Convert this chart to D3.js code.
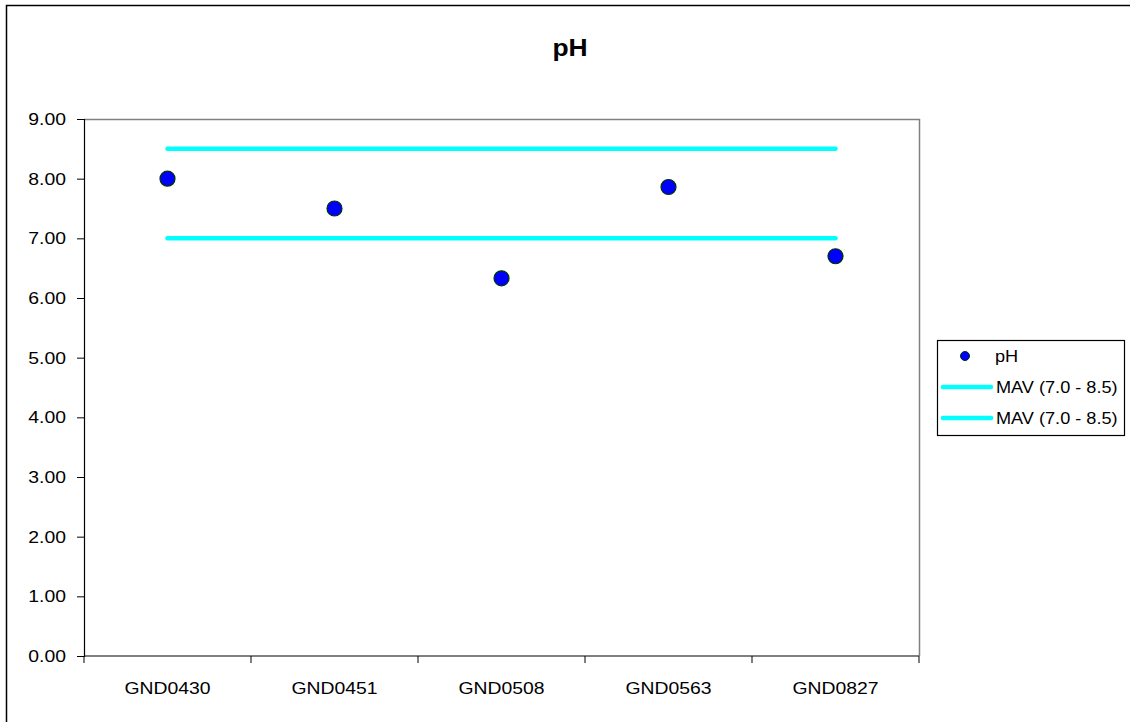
<!DOCTYPE html>
<html>
<head>
<meta charset="utf-8">
<script src="https://cdn.jsdelivr.net/npm/d3@7"></script>
<style>
  body { margin: 0; background: #fff; }
  svg { display: block; font-family: "Liberation Sans", Arial, sans-serif; }
</style>
</head>
<body>
<div id="chart"></div>
<script>
const categories = ["GND0430", "GND0451", "GND0508", "GND0563", "GND0827"];
const phValues = [8.0, 7.5, 6.33, 7.86, 6.7];
const mavHigh = [8.5, 8.5, 8.5, 8.5, 8.5];
const mavLow = [7.0, 7.0, 7.0, 7.0, 7.0];
const yTicks = [0, 1, 2, 3, 4, 5, 6, 7, 8, 9];
const legendLabels = ["pH", "MAV (7.0 - 8.5)", "MAV (7.0 - 8.5)"];

const width = 1130, height = 722;
const plot = { left: 84, right: 919, top: 119, bottom: 656 };

const svg = d3.select("#chart").append("svg")
  .attr("width", width)
  .attr("height", height);

// chart area frame
svg.append("rect")
  .attr("x", 6.5).attr("y", 5.5)
  .attr("width", 1130).attr("height", 722)
  .attr("fill", "#fff")
  .attr("stroke", "#000")
  .attr("stroke-width", 1.5);

const x = d3.scaleBand().domain(categories).range([plot.left, plot.right]).padding(0);
const y = d3.scaleLinear().domain([0, 9]).range([plot.bottom, plot.top]);
const cx = d => x(d) + x.bandwidth() / 2;

// plot area border (top + right gray)
svg.append("path")
  .attr("d", `M${plot.left},${plot.top + 0.5}H${plot.right + 0.5}V${plot.bottom}`)
  .attr("fill", "none")
  .attr("stroke", "#808080")
  .attr("stroke-width", 1.5);

// y axis
const yAxis = svg.append("g")
  .attr("transform", `translate(${plot.left},0)`)
  .call(d3.axisLeft(y).tickValues(yTicks).tickSize(7).tickFormat(d3.format(".2f")));
yAxis.select(".domain").attr("stroke", "#000").attr("stroke-width", 1.2);
yAxis.selectAll(".tick line").attr("stroke", "#000");
yAxis.selectAll(".tick text")
  .attr("x", 0)
  .attr("font-size", 17)
  .attr("fill", "#000")
  .attr("transform", "translate(-18,0) scale(1.14,1)");

// x axis with ticks at category boundaries
const xAxis = svg.append("g")
  .attr("transform", `translate(0,${plot.bottom})`);
xAxis.append("line")
  .attr("x1", plot.left).attr("x2", plot.right)
  .attr("stroke", "#000").attr("stroke-width", 1.2);
const bounds = categories.map(d => x(d)).concat([plot.right]);
xAxis.selectAll(".xtick").data(bounds).join("line")
  .attr("class", "xtick")
  .attr("x1", d => d).attr("x2", d => d)
  .attr("y1", 0).attr("y2", 7)
  .attr("stroke", "#000");
xAxis.selectAll(".xlabel").data(categories).join("text")
  .attr("class", "xlabel")
  .attr("text-anchor", "middle")
  .attr("font-size", 17)
  .attr("transform", d => `translate(${cx(d)},38) scale(1.14,1)`)
  .text(d => d);

// MAV lines
const line = d3.line().x((d, i) => cx(categories[i])).y(d => y(d));
[mavHigh, mavLow].forEach(s => {
  svg.append("path")
    .attr("d", line(s))
    .attr("fill", "none")
    .attr("stroke", "#00ffff")
    .attr("stroke-width", 4.5)
    .attr("stroke-linecap", "round");
});

// pH points
svg.append("g").selectAll("circle").data(phValues).join("circle")
  .attr("cx", (d, i) => cx(categories[i]))
  .attr("cy", d => y(d))
  .attr("r", 7.5)
  .attr("fill", "#0000ff")
  .attr("stroke", "#003300")
  .attr("stroke-width", 1.2);

// title
svg.append("text")
  .attr("text-anchor", "middle")
  .attr("font-size", 24)
  .attr("font-weight", "bold")
  .attr("transform", "translate(570,56) scale(1.1,1)")
  .text("pH");

// legend
const lg = svg.append("g");
lg.append("rect")
  .attr("x", 937.5).attr("y", 340.5)
  .attr("width", 187).attr("height", 95)
  .attr("fill", "#fff")
  .attr("stroke", "#000")
  .attr("stroke-width", 1.2);
const rowY = [356, 387, 418];
lg.append("circle")
  .attr("cx", 965).attr("cy", rowY[0]).attr("r", 4.5)
  .attr("fill", "#0000ff").attr("stroke", "#003300");
[1, 2].forEach(i => {
  lg.append("line")
    .attr("x1", 943).attr("x2", 991)
    .attr("y1", rowY[i]).attr("y2", rowY[i])
    .attr("stroke", "#00ffff").attr("stroke-width", 4.5)
    .attr("stroke-linecap", "round");
});
lg.selectAll(".ltext").data(legendLabels).join("text")
  .attr("class", "ltext")
  .attr("font-size", 16.5)
  .attr("dy", "0.35em")
  .attr("transform", (d, i) => `translate(${i === 0 ? 995 : 996},${rowY[i]}) scale(1.1,1)`)
  .text(d => d);
</script>
</body>
</html>
